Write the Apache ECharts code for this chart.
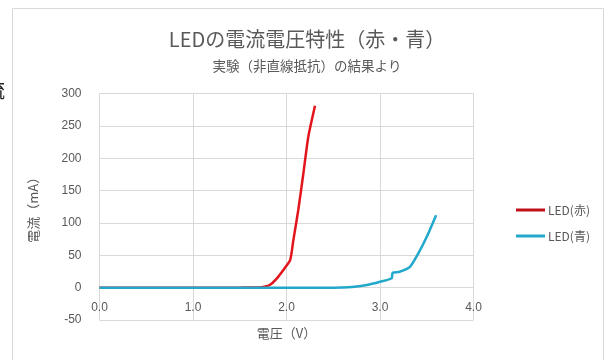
<!DOCTYPE html>
<html>
<head>
<meta charset="utf-8">
<script src="https://cdn.jsdelivr.net/npm/echarts@6/dist/echarts.min.js"></script>
<style>
  html, body { margin: 0; padding: 0; background: #fff; }
  #chart { width: 614px; height: 360px; }
</style>
</head>
<body>
<div id="chart"></div>
<script>
// LED current-voltage measurements: [voltage (V), current (mA)]
const redLed = [
  [0.0, 0], [0.5, 0], [1.0, 0], [1.5, 0], [1.6, 0.1], [1.7, 0.4], [1.75, 1],
  [1.82, 4], [1.895, 14], [1.98, 30], [2.04, 43], [2.073, 73], [2.126, 120],
  [2.18, 176], [2.233, 233], [2.305, 281]
];
const blueLed = [
  [0.0, 0], [1.0, 0], [2.0, 0], [2.5, 0], [2.6, 0.2], [2.7, 1], [2.86, 4],
  [3.0, 9], [3.125, 14.5], [3.135, 23], [3.21, 24.5], [3.32, 32], [3.41, 53],
  [3.5, 78.5], [3.6, 112]
];
const seriesNames = ['LED(赤)', 'LED(青)'];
const titleText = 'LEDの電流電圧特性（赤・青）';
const subtitleText = '実験（非直線抵抗）の結果より';
const xName = '電圧（V）';
const yName = '電流（mA）';

const yMin = -50, yMax = 300;
const font = '"Noto Sans CJK JP", "Noto Sans", sans-serif';
const textGray = '#595959';
const gridGray = '#d9d9d9';
const gridTop = 93.5, gridBottom = 40;
const plotHeight = 360 - gridTop - gridBottom;
// the horizontal axis crosses the vertical one at current = 0
const zeroOffset = -plotHeight * (0 - yMin) / (yMax - yMin);

const chart = echarts.init(document.getElementById('chart'));
chart.setOption({
  animation: false,
  backgroundColor: '#fff',
  textStyle: { fontFamily: font },
  title: [
    { text: titleText, left: 'center', top: 24, textStyle: { fontSize: 20, fontWeight: 'normal', color: textGray, fontFamily: font } },
    { text: subtitleText, left: 'center', top: 54, textStyle: { fontSize: 13.5, fontWeight: 'normal', color: textGray, fontFamily: font } }
  ],
  graphic: [
    { type: 'rect', shape: { x: 12.5, y: 8.5, width: 591, height: 380 }, style: { fill: 'none', stroke: gridGray, lineWidth: 1 }, silent: true },
    { type: 'text', x: -15, y: 80, style: { text: '流', font: '20px ' + font, fill: '#222' }, silent: true }
  ],
  legend: {
    orient: 'vertical',
    left: 511,
    top: 199,
    itemWidth: 29,
    itemHeight: 3,
    itemGap: 14,
    icon: 'rect',
    textStyle: { fontSize: 12, color: textGray, fontFamily: font, padding: [0, 0, 0, -2] },
    data: seriesNames
  },
  grid: { left: 99.5, right: 140.5, top: gridTop, bottom: gridBottom, containLabel: false, outerBoundsMode: 'none' },
  xAxis: {
    type: 'value',
    min: 0, max: 4, interval: 1,
    name: xName,
    nameLocation: 'middle',
    nameGap: 39,
    nameTextStyle: { fontSize: 13, color: textGray, fontFamily: font },
    offset: zeroOffset,
    axisLine: { onZero: false, lineStyle: { color: gridGray } },
    axisTick: { show: false },
    axisLabel: { color: textGray, fontSize: 12, margin: 14, formatter: v => v.toFixed(1), fontFamily: 'Liberation Sans' },
    splitLine: { show: true, lineStyle: { color: gridGray, width: 1 } }
  },
  yAxis: {
    type: 'value',
    min: yMin, max: yMax, interval: 50,
    name: yName,
    nameLocation: 'middle',
    nameGap: 60,
    nameTextStyle: { fontSize: 13, color: textGray, fontFamily: font },
    axisLine: { show: false },
    axisTick: { show: false },
    axisLabel: { color: textGray, fontSize: 12, margin: 18, fontFamily: 'Liberation Sans' },
    splitLine: { show: true, lineStyle: { color: gridGray, width: 1 } }
  },
  series: [
    {
      name: seriesNames[0], type: 'line', data: redLed, showSymbol: false, smooth: 0.2,
      lineStyle: { color: '#e3141c', width: 2.5 }, itemStyle: { color: '#c0101a' }, z: 3
    },
    {
      name: seriesNames[1], type: 'line', data: blueLed, showSymbol: false, smooth: 0.2,
      lineStyle: { color: '#22a8cb', width: 2.5 }, itemStyle: { color: '#22a8cb' }, z: 4
    }
  ]
});
</script>
</body>
</html>
